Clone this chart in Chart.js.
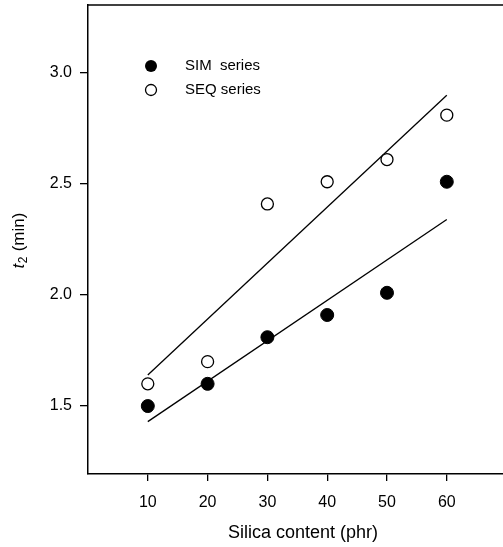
<!DOCTYPE html>
<html>
<head>
<meta charset="utf-8">
<script src="https://cdn.jsdelivr.net/npm/chart.js@4"></script>
<style>
  body { margin: 0; background: #fff; }
</style>
</head>
<body>
<canvas id="myChart" width="503" height="547"></canvas>
<script>
// data
const silica = [10, 20, 30, 40, 50, 60];
const simValues = [1.5, 1.6, 1.81, 1.91, 2.01, 2.51];
const seqValues = [1.6, 1.7, 2.41, 2.51, 2.61, 2.81];
// fitted lines, ends at 10 and 60 phr
const fitX = [10, 60];
const simFit = [1.43, 2.34];
const seqFit = [1.64, 2.9];
const xTicks = [10, 20, 30, 40, 50, 60];
const yTicks = [1.5, 2.0, 2.5, 3.0];
const seriesLabels = ['SIM  series', 'SEQ series'];

const FONT = '"Liberation Sans", Arial, Helvetica, sans-serif';

function toPoints(xs, ys) {
  return xs.map((x, i) => ({x: x, y: ys[i]}));
}

// titles, top frame line and legend
const extras = {
  id: 'extras',
  afterDraw(chart) {
    const ctx = chart.ctx;
    const a = chart.chartArea;
    ctx.save();
    ctx.strokeStyle = '#000';
    ctx.lineWidth = 1.5;
    ctx.beginPath();
    ctx.moveTo(a.left, a.top);
    ctx.lineTo(a.right, a.top);
    ctx.stroke();

    ctx.fillStyle = '#000';
    // x title
    ctx.font = '18px ' + FONT;
    ctx.textAlign = 'center';
    ctx.textBaseline = 'middle';
    ctx.fillText('Silica content (phr)', 303, 533);

    // y title, t with subscript 2
    ctx.translate(19, 241);
    ctx.rotate(-Math.PI / 2);
    ctx.textAlign = 'left';
    ctx.font = 'italic 17px ' + FONT;
    const w1 = ctx.measureText('t').width;
    ctx.font = '12px ' + FONT;
    const w2 = ctx.measureText('2').width;
    ctx.font = '17px ' + FONT;
    const w3 = ctx.measureText(' (min)').width;
    let x0 = -(w1 + w2 + w3) / 2;
    ctx.font = 'italic 17px ' + FONT;
    ctx.fillText('t', x0, 0);
    ctx.font = '12px ' + FONT;
    ctx.fillText('2', x0 + w1 + 0.5, 5);
    ctx.font = '17px ' + FONT;
    ctx.fillText(' (min)', x0 + w1 + w2 + 1, 0);
    ctx.restore();

    // legend
    ctx.save();
    ctx.font = '15px ' + FONT;
    ctx.textBaseline = 'middle';
    ctx.textAlign = 'left';
    ctx.fillStyle = '#000';
    ctx.strokeStyle = '#000';
    ctx.lineWidth = 1.3;
    const rows = [66, 90];
    rows.forEach((y, i) => {
      ctx.beginPath();
      ctx.arc(151, y, i === 0 ? 6 : 5.5, 0, Math.PI * 2);
      if (i === 0) {
        ctx.fill();
      } else {
        ctx.fillStyle = '#fff';
        ctx.fill();
        ctx.stroke();
        ctx.fillStyle = '#000';
      }
      ctx.fillText(seriesLabels[i], 185, y);
    });
    ctx.restore();
  }
};

const ctx = document.getElementById('myChart').getContext('2d');
const myChart = new Chart(ctx, {
  type: 'scatter',
  data: {
    datasets: [
      {
        label: seriesLabels[0],
        data: toPoints(silica, simValues),
        pointRadius: 6.5,
        pointBackgroundColor: '#000',
        pointBorderColor: '#000',
        pointBorderWidth: 1,
        order: 1
      },
      {
        label: seriesLabels[1],
        data: toPoints(silica, seqValues),
        pointRadius: 6,
        pointBackgroundColor: '#fff',
        pointBorderColor: '#000',
        pointBorderWidth: 1.3,
        order: 1
      },
      {
        type: 'line',
        data: toPoints(fitX, simFit),
        borderColor: '#000',
        borderWidth: 1.3,
        pointRadius: 0,
        order: 2
      },
      {
        type: 'line',
        data: toPoints(fitX, seqFit),
        borderColor: '#000',
        borderWidth: 1.3,
        pointRadius: 0,
        order: 2
      }
    ]
  },
  options: {
    responsive: false,
    animation: false,
    layout: { padding: {left: 0, right: 0, top: 5, bottom: 0}, autoPadding: false },
    plugins: {
      legend: { display: false },
      tooltip: { enabled: false }
    },
    scales: {
      x: {
        type: 'linear',
        min: 0,
        max: 69.4,
        afterBuildTicks: s => { s.ticks = xTicks.map(v => ({value: v})); },
        afterFit: s => {
          s.height = 73;
          s.paddingLeft = 0;
          s.paddingRight = 0;
        },
        ticks: {
          color: '#000',
          font: { family: FONT, size: 16 },
          padding: 12,
          callback: v => String(v)
        },
        grid: {
          drawOnChartArea: false,
          tickLength: 7,
          color: '#000',
          lineWidth: 1.3
        },
        border: { color: '#000', width: 1.5 }
      },
      y: {
        min: 1.194,
        max: 3.306,
        afterBuildTicks: s => { s.ticks = yTicks.map(v => ({value: v})); },
        afterFit: s => {
          s.width = 88;
          s.paddingTop = 0;
          s.paddingBottom = 0;
        },
        ticks: {
          color: '#000',
          font: { family: FONT, size: 16 },
          padding: 8,
          callback: v => v.toFixed(1)
        },
        grid: {
          drawOnChartArea: false,
          tickLength: 8,
          color: '#000',
          lineWidth: 1.3
        },
        border: { color: '#000', width: 1.5 }
      }
    }
  },
  plugins: [extras]
});
</script>
</body>
</html>
